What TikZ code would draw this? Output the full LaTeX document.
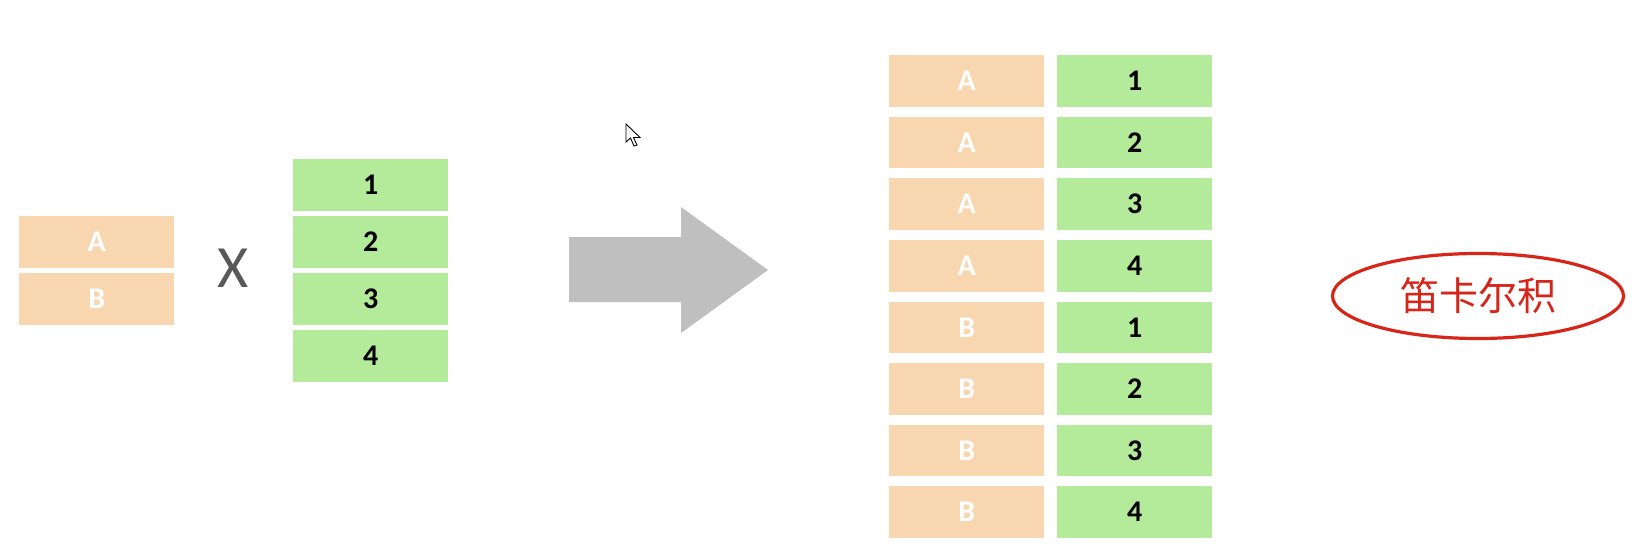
\documentclass[tikz,border=0pt]{standalone}
\usepackage{fontspec}
\setmainfont{Carlito}
\newfontfamily\cjk{Noto Sans CJK SC}
\usetikzlibrary{shapes.geometric}
\definecolor{boxorange}{RGB}{248,214,176}
\definecolor{boxgreen}{RGB}{179,235,155}
\definecolor{arrowgray}{RGB}{191,191,191}
\definecolor{xgray}{RGB}{89,89,89}
\definecolor{redmark}{RGB}{214,38,26}
\tikzset{
  cellbox/.style={anchor=north west, minimum width=155pt, minimum height=51.5pt, inner sep=0pt, font=\fontsize{30}{30}\selectfont\bfseries},
  orangecell/.style={cellbox, fill=boxorange, text=white},
  greencell/.style={cellbox, fill=boxgreen, text=black},
}
\begin{document}
\begin{tikzpicture}[x=1pt,y=-1pt]
\useasboundingbox (0,0) rectangle (1634,547);
% left operand
\node[orangecell] (la) at (19,216) {A};
\node[orangecell] (lb) at (19,273) {B};
% times sign
\node[text=xgray, font=\fontsize{60}{60}\selectfont, inner sep=0pt] (times) at (233,268) {X};
% right operand
\foreach \n [count=\i from 0] in {1,2,3,4}{
  \node[greencell] (g\n) at (293,159+57*\i) {\n};
}
% block arrow
\fill[arrowgray] (569,237) -- (681,237) -- (681,207) -- (768,270) -- (681,333) -- (681,302) -- (569,302) -- cycle;
% mouse cursor
\draw[fill=white, line width=0.9pt, line join=miter] (626,124) -- (626,142) -- (630.5,138) -- (634,146) -- (637,145) -- (633.5,137.5) -- (640,137.5) -- cycle;
% result
\foreach \l/\n [count=\i from 0] in {A/1,A/2,A/3,A/4,B/1,B/2,B/3,B/4}{
  \node[orangecell] (r\i) at (889,55+61.6*\i) {\l};
  \node[greencell] (s\i) at (1057,55+61.6*\i) {\n};
}
% label
\node[draw=redmark, line width=3.2pt, ellipse, minimum width=291pt, minimum height=85pt, inner sep=0pt, text=redmark, font=\cjk\fontsize{39}{39}\selectfont] (label) at (1478,296) {笛卡尔积};
\end{tikzpicture}
\end{document}
